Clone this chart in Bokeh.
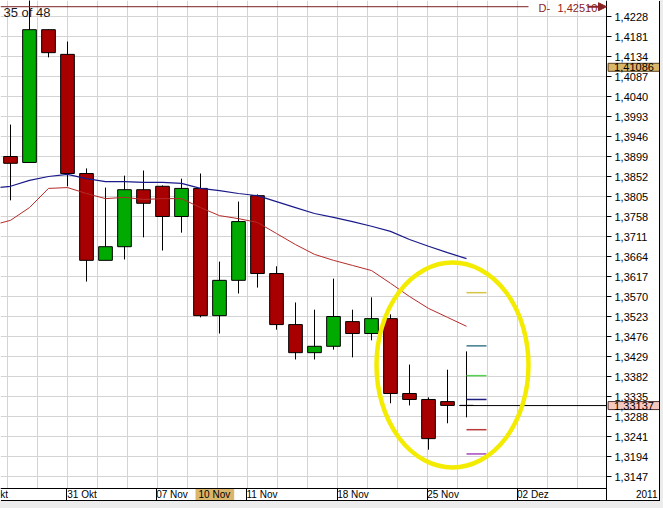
from bokeh.plotting import figure
from bokeh.models import (Range1d, LinearAxis, FixedTicker, CustomJSTickFormatter,
                          Label, Arrow, NormalHead, Grid, ColumnDataSource)
from bokeh.embed import file_html
from bokeh.resources import INLINE

# ---------------- data ----------------
idx = list(range(25))
opens  = [1.3899, 1.3885, 1.4197, 1.4139, 1.3859, 1.3655, 1.3687, 1.3821, 1.3829, 1.3758,
          1.3824, 1.3525, 1.3608, 1.3807, 1.3624, 1.3504, 1.3438, 1.3453, 1.3511, 1.3483,
          1.3518, 1.3342, 1.3328, 1.3323, 1.3314]
closes = [1.3883, 1.4197, 1.4143, 1.3859, 1.3655, 1.3687, 1.3821, 1.3789, 1.3758, 1.3824,
          1.3525, 1.3608, 1.3746, 1.3624, 1.3504, 1.3438, 1.3453, 1.3523, 1.3483, 1.3518,
          1.3342, 1.3328, 1.3236, 1.3314, 1.3314]
highs  = [1.3974, 1.4275, 1.4198, 1.4169, 1.3871, 1.3826, 1.3854, 1.3866, 1.3831, 1.3847,
          1.3859, 1.3652, 1.3793, 1.3810, 1.3641, 1.3556, 1.3539, 1.3612, 1.3539, 1.3568,
          1.3528, 1.3410, 1.3333, 1.3398, 1.3441]
lows   = [1.3796, 1.3885, 1.4132, 1.3829, 1.3605, 1.3655, 1.3657, 1.3709, 1.3678, 1.3720,
          1.3521, 1.3483, 1.3577, 1.3591, 1.3492, 1.3422, 1.3422, 1.3445, 1.3427, 1.3467,
          1.3319, 1.3314, 1.3210, 1.3272, 1.3286]

ma_idx = list(range(-1, 25))
ma_slow = [1.3824, 1.3829, 1.3843, 1.3852, 1.3857, 1.3847, 1.3840, 1.3840, 1.3838, 1.3838,
           1.3836, 1.3824, 1.3819, 1.3812, 1.3807, 1.3793, 1.3779, 1.3765, 1.3756, 1.3746,
           1.3735, 1.3723, 1.3704, 1.3688, 1.3673, 1.3659]
ma_fast = [1.3737, 1.3749, 1.3779, 1.3824, 1.3826, 1.3812, 1.3800, 1.3803, 1.3798, 1.3800,
           1.3800, 1.3779, 1.3760, 1.3753, 1.3744, 1.3718, 1.3692, 1.3669, 1.3655, 1.3643,
           1.3631, 1.3601, 1.3570, 1.3542, 1.3521, 1.3500]

y_ticks = [1.3147, 1.3194, 1.3241, 1.3288, 1.3335, 1.3382, 1.3429, 1.3476, 1.3523, 1.3570,
           1.3617, 1.3664, 1.3711, 1.3758, 1.3805, 1.3852, 1.3899, 1.3946, 1.3993, 1.4040,
           1.4087, 1.4134, 1.4181, 1.4228]

first_date_label = "24 Okt"
first_date_pos = -1.79
date_labels = ["31 Okt", "07 Nov", "11 Nov", "18 Nov", "25 Nov", "02 Dez"]
date_pos = [2.947, 7.684, 12.42, 17.21, 21.95, 26.68]
cursor_label = "10 Nov"
cursor_pos = 9.737

level_values = [1.3579, 1.3454, 1.3384, 1.3328, 1.3257, 1.3200]
level_colors = ["#d6c447", "#3d7b8c", "#55d255", "#1e1e7e", "#b93a3a", "#a846c0"]

last_price = 1.33137
tag_price = 1.41086
ref_level = 1.42510
year_label = "2011"
counter_label = "35 of 48"

# ---------------- geometry ----------------
X0, DX = 10.0, 19.0          # pixel of first candle, px per candle
W, H = 659, 500              # whole chart
FW, FH = 606, 488            # price area
PPU = 20 / 0.0047            # pixels per price unit
Y_TOP = 1.4228 + 16 / PPU


def xi(px):
    return (px - X0) / DX


def yp(py):
    return Y_TOP - py / PPU


FONT = "Liberation Sans"
DARKRED = "#8b2323"

p = figure(frame_width=W, frame_height=H,
           x_range=Range1d(xi(0), xi(W)), y_range=Range1d(yp(H), Y_TOP),
           output_backend="svg", toolbar_location=None,
           x_axis_location=None, y_axis_location=None,
           min_border_left=0, min_border_top=0, min_border_right=0, min_border_bottom=0,
           background_fill_color="white", border_fill_color="white",
           outline_line_color=None)
p.center = []
p.styles = {"box-shadow": "1px 1px 0 0 #000000, 0 0 0 600px #ececec"}

# grids
vgrid = [xi(6.7 + 30 * k) for k in range(20)]
p.add_layout(Grid(dimension=0, ticker=FixedTicker(ticks=vgrid), grid_line_color="#d4d4d4"), "center")
p.add_layout(Grid(dimension=1, ticker=FixedTicker(ticks=y_ticks), grid_line_color="#d4d4d4"), "center")

# candles
top = [max(o, c) for o, c in zip(opens, closes)]
bot = [min(o, c) for o, c in zip(opens, closes)]
col = ["#00aa00" if c > o else "#a80000" for o, c in zip(opens, closes)]
src = ColumnDataSource(dict(x=idx, high=highs, low=lows, top=top, bottom=bot, color=col))
p.segment(x0="x", y0="low", x1="x", y1="high", line_color="black", line_width=1, source=src)
p.vbar(x="x", width=0.72, top="top", bottom="bottom", fill_color="color",
       line_color="black", line_width=1, source=src)

# moving averages
p.line(ma_idx, ma_slow, line_color="#1a1a8a", line_width=1.2)
p.line(ma_idx, ma_fast, line_color="#b52a2a", line_width=1)

# current price line
p.ray(x=[idx[-1] - 0.36], y=[last_price], length=0, angle=0, line_color="black", line_width=1)

# pivot levels
n = len(level_values)
p.segment(x0=[idx[-1]] * n, x1=[idx[-1] + 20 / DX] * n, y0=level_values, y1=level_values,
          line_color=level_colors, line_width=1.5)

# reference line at top
p.segment(x0=[xi(0)], x1=[xi(528)], y0=[ref_level], y1=[ref_level], line_color="#7a1f1f", line_width=1)

# highlight ellipse
p.ellipse(x=[xi(452)], y=[yp(364.5)], width=[152 / DX], height=[205 / PPU],
          fill_color=None, line_color="#f4ec00", line_width=4.5)

# white scale areas (price scale on the right, time scale below)
p.quad(left=[xi(FW), xi(0)], right=[xi(W), xi(FW)], top=[Y_TOP, yp(FH)], bottom=[yp(H), yp(H)],
       fill_color="white", line_color=None)

# axes drawn at fixed positions inside the canvas
yax = LinearAxis(ticker=FixedTicker(ticks=y_ticks), fixed_location=xi(FW),
                 formatter=CustomJSTickFormatter(code="return tick.toFixed(4).replace('.', ',');"),
                 major_tick_out=5, major_tick_in=0, minor_tick_out=0, minor_tick_in=0,
                 major_label_standoff=3, axis_line_color="black", major_tick_line_color="black",
                 major_label_text_font=FONT, major_label_text_font_size="11px",
                 major_label_text_color="black")
p.add_layout(yax, "right")

label_centers = [d + 15.5 / DX for d in date_pos]
xax = LinearAxis(ticker=FixedTicker(ticks=label_centers, minor_ticks=date_pos),
                 fixed_location=yp(FH), bounds=(xi(0), xi(FW)),
                 major_label_overrides={c: lab for c, lab in zip(label_centers, date_labels)},
                 major_tick_out=0, major_tick_in=0, minor_tick_out=12, minor_tick_in=0,
                 major_label_standoff=-12,
                 axis_line_color="black", minor_tick_line_color="black",
                 major_label_text_font=FONT, major_label_text_font_size="10px",
                 major_label_text_color="black")
p.add_layout(xax, "below")

p.add_layout(Arrow(end=NormalHead(size=8, fill_color=DARKRED, line_color=DARKRED),
                   x_start=xi(587), x_end=xi(FW), y_start=ref_level, y_end=ref_level,
                   line_color=DARKRED, line_width=2))
p.add_layout(Label(x=xi(538), y=yp(7.5), text="D-", text_font=FONT, text_font_size="11px",
                   text_color=DARKRED, text_baseline="middle", text_align="left"))
p.add_layout(Label(x=xi(557), y=yp(7.5), text=f"{ref_level:.5f}".replace(".", ","),
                   text_font=FONT, text_font_size="11px",
                   text_color=DARKRED, text_baseline="middle", text_align="left"))

# counter text
p.add_layout(Label(x=xi(3), y=yp(4), text=counter_label, text_font=FONT, text_font_size="13px",
                   text_color="#1a1a1a", text_baseline="top", text_align="left"))

# price tags on the scale
p.add_layout(Label(x=xi(633.5), y=tag_price, text=f"{tag_price:.5f}".replace(".", ","),
                   text_font=FONT, text_font_size="11px", text_color="black",
                   text_align="center", text_baseline="middle",
                   background_fill_color="#d9b66a", border_line_color="#5a4020",
                   padding=dict(left=6, right=6, top=0, bottom=0)))
p.add_layout(Label(x=xi(633.5), y=last_price, text=f"{last_price:.5f}".replace(".", ","),
                   text_font=FONT, text_font_size="11px", text_color="black",
                   text_align="center", text_baseline="middle",
                   background_fill_color="#f7c8c0", border_line_color="#503030",
                   padding=dict(left=6, right=6, top=0, bottom=0)))

# time scale extras
p.add_layout(Label(x=first_date_pos + 2 / DX, y=yp(494), text=first_date_label, text_font=FONT,
                   text_font_size="10px", text_color="black", text_align="left",
                   text_baseline="middle"))
p.add_layout(Label(x=cursor_pos, y=yp(494), text=cursor_label, text_font=FONT, text_font_size="10px",
                   text_color="black", text_align="left", text_baseline="middle",
                   background_fill_color="#dab56a",
                   padding=dict(left=3, right=4, top=0, bottom=0)))
p.add_layout(Label(x=xi(657), y=yp(493.5), text=year_label, text_font=FONT, text_font_size="10px",
                   text_color="black", text_align="right", text_baseline="middle"))

open("out.html", "w").write(file_html(p, INLINE))
